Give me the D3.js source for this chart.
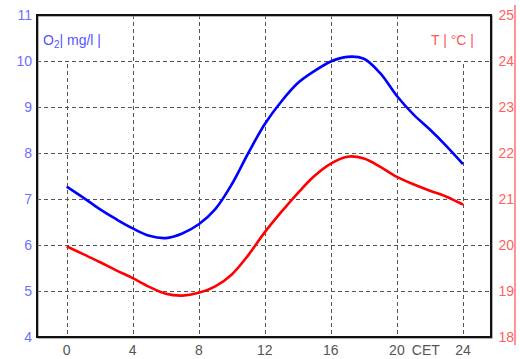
<!DOCTYPE html>
<html>
<head>
<meta charset="utf-8">
<script src="https://cdn.jsdelivr.net/npm/d3@7"></script>
<style>
  body { margin: 0; background: #fff; }
  svg { display: block; font-family: "Liberation Sans", Arial, sans-serif; }
</style>
</head>
<body>
<svg id="chart" width="520" height="359"></svg>
<script>
// hours of the day (CET)
const hours = d3.range(0, 25);
// dissolved oxygen, mg/l
const o2Values = [7.27, 7.03, 6.78, 6.56, 6.36, 6.2, 6.15, 6.25, 6.45, 6.78, 7.32, 8.0,
  8.63, 9.12, 9.52, 9.78, 9.99, 10.09, 10.05, 9.73, 9.24, 8.84, 8.51, 8.15, 7.76];
// water temperature, °C
const tempValues = [19.97, 19.8, 19.63, 19.45, 19.28, 19.09, 18.94, 18.9, 18.96, 19.1, 19.36,
  19.78, 20.28, 20.72, 21.13, 21.5, 21.77, 21.92, 21.88, 21.7, 21.48, 21.32, 21.18, 21.05, 20.88];

const xTicks = [0, 4, 8, 12, 16, 20, 24];
const o2Ticks = [4, 5, 6, 7, 8, 9, 10, 11];
const tempTicks = [18, 19, 20, 21, 22, 23, 24, 25];

const svg = d3.select('#chart');
const plotL = 37, plotR = 491, plotT = 15, plotB = 337;

const x = d3.scaleLinear().domain([-1.8, 25.7]).range([plotL, plotR]);
const yO2 = d3.scaleLinear().domain([4, 11]).range([plotB, plotT]);
const yT = d3.scaleLinear().domain([18, 25]).range([plotB, plotT]);

// --- grid ---
const grid = svg.append('g').attr('stroke', '#555').attr('stroke-width', 1)
  .attr('stroke-dasharray', '4,3');
grid.selectAll('.hgrid').data(o2Ticks.slice(1, -1)).enter().append('line')
  .attr('x1', plotL).attr('x2', plotR)
  .attr('y1', d => yO2(d) + 0.5).attr('y2', d => yO2(d) + 0.5);
grid.selectAll('.vgrid').data(xTicks).enter().append('line')
  .attr('x1', d => Math.round(x(d)) + 0.5).attr('x2', d => Math.round(x(d)) + 0.5)
  .attr('y1', plotT).attr('y2', plotB);

// white boxes behind unit labels
svg.append('rect').attr('x', plotL + 1).attr('y', plotT + 1).attr('width', 85).attr('height', 45).attr('fill', '#fff');
svg.append('rect').attr('x', 405).attr('y', plotT + 1).attr('width', plotR - 406).attr('height', 45).attr('fill', '#fff');

// --- lines ---
const lineO2 = d3.line().x((d, i) => x(hours[i])).y(d => yO2(d)).curve(d3.curveCatmullRom);
const lineT = d3.line().x((d, i) => x(hours[i])).y(d => yT(d)).curve(d3.curveCatmullRom);

svg.append('path').attr('d', lineT(tempValues))
  .attr('fill', 'none').attr('stroke', '#ff0000').attr('stroke-width', 2.6);
svg.append('path').attr('d', lineO2(o2Values))
  .attr('fill', 'none').attr('stroke', '#0000ff').attr('stroke-width', 2.6);

// --- frame ---
svg.append('rect').attr('x', plotL + 1).attr('y', plotT + 1).attr('width', plotR - plotL).attr('height', plotB - plotT)
  .attr('fill', 'none').attr('stroke', '#999').attr('stroke-width', 1.5);
svg.append('rect').attr('x', plotL).attr('y', plotT).attr('width', plotR - plotL).attr('height', plotB - plotT)
  .attr('fill', 'none').attr('stroke', '#111').attr('stroke-width', 2);

// right axis line
svg.append('line').attr('x1', 515).attr('x2', 515).attr('y1', 5).attr('y2', 345)
  .attr('stroke', '#ff7070').attr('stroke-width', 1.5);

// --- tick labels ---
svg.selectAll('.o2lab').data(o2Ticks).enter().append('text')
  .attr('x', 32).attr('y', d => yO2(d)).attr('dy', '0.36em')
  .attr('text-anchor', 'end').attr('font-size', 14).attr('fill', '#6f6fff')
  .text(d => d);

svg.selectAll('.tlab').data(tempTicks).enter().append('text')
  .attr('x', 514).attr('y', d => yT(d)).attr('dy', '0.36em')
  .attr('text-anchor', 'end').attr('font-size', 14).attr('fill', '#ff5f5f')
  .text(d => d);

svg.selectAll('.xlab').data(xTicks).enter().append('text')
  .attr('x', d => x(d)).attr('y', 355)
  .attr('text-anchor', 'middle').attr('font-size', 14).attr('fill', '#555')
  .text(d => d);
svg.append('text').attr('x', x(21.75)).attr('y', 355)
  .attr('text-anchor', 'middle').attr('font-size', 14).attr('fill', '#555').text('CET');

// --- unit labels ---
const o2Label = svg.append('text').attr('x', 43).attr('y', 45)
  .attr('font-size', 14).attr('fill', '#5555ff');
o2Label.append('tspan').text('O');
o2Label.append('tspan').attr('font-size', 10).attr('dy', 3).text('2');
o2Label.append('tspan').attr('dy', -3).text('| mg/l |');

svg.append('text').attr('x', 474).attr('y', 45).attr('text-anchor', 'end')
  .attr('font-size', 14).attr('fill', '#ff5555').text('T | °C |');
</script>
</body>
</html>
